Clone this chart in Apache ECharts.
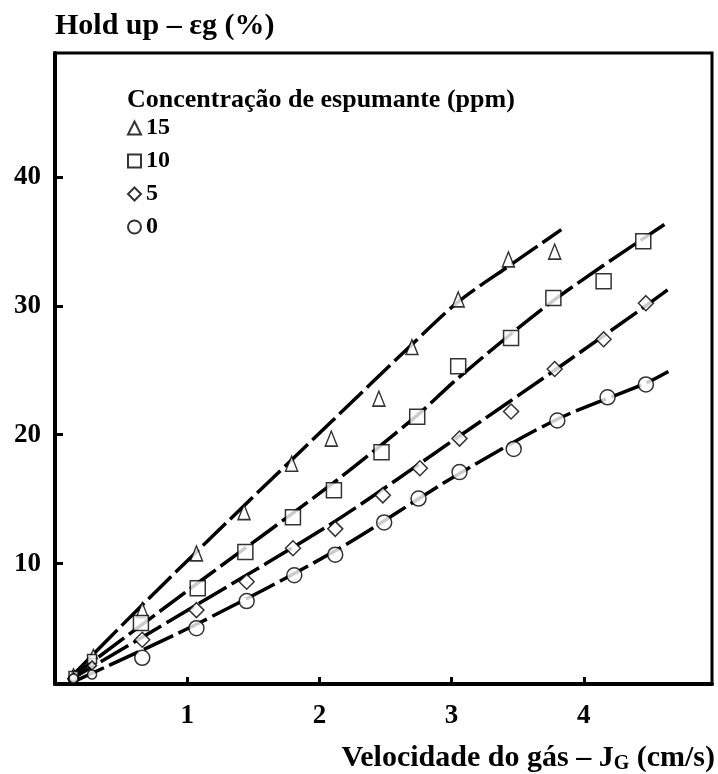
<!DOCTYPE html>
<html>
<head>
<meta charset="utf-8">
<script src="https://cdn.jsdelivr.net/npm/echarts@6/dist/echarts.min.js"></script>
<style>
  html, body { margin: 0; padding: 0; background: #fff; }
  #chart { width: 718px; height: 774px; }
</style>
</head>
<body>
<div id="chart"></div>
<script>
// velocidade do gas (cm/s) e hold up (%) para cada concentracao de espumante
var jg15 = [0.14, 0.29, 0.66, 1.07, 1.43, 1.79, 2.09, 2.45, 2.70, 3.05, 3.43, 3.78];
var eg15 = [1.5, 3.0, 6.4, 10.8, 14.0, 17.75, 19.7, 22.8, 26.8, 30.5, 33.6, 34.2];
var jg10 = [0.14, 0.28, 0.65, 1.08, 1.44, 1.80, 2.11, 2.47, 2.74, 3.05, 3.45, 3.77, 4.15, 4.45];
var eg10 = [1.3, 2.6, 5.4, 8.1, 10.9, 13.6, 15.7, 18.65, 21.4, 25.3, 27.5, 30.6, 31.9, 35.0];
var jg5 = [0.14, 0.28, 0.66, 1.07, 1.45, 1.80, 2.12, 2.48, 2.76, 3.06, 3.45, 3.78, 4.15, 4.47];
var eg5 = [1.2, 2.1, 4.1, 6.4, 8.6, 11.2, 12.7, 15.3, 17.4, 19.7, 21.8, 25.1, 27.4, 30.2];
var jg0 = [0.14, 0.28, 0.66, 1.07, 1.45, 1.81, 2.12, 2.49, 2.75, 3.06, 3.47, 3.80, 4.18, 4.47];
var eg0 = [1.1, 1.4, 2.7, 5.0, 7.1, 9.1, 10.7, 13.2, 15.05, 17.1, 18.9, 21.1, 22.9, 23.9];

// linhas de ajuste (tracejadas)
var fitJg15 = [0.10, 0.66, 1.43, 2.09, 2.70, 3.05, 3.45, 3.83];
var fitEg15 = [1.0, 6.8, 14.5, 21.0, 27.0, 30.3, 33.2, 35.9];
var fitJg10 = [0.10, 1.08, 2.11, 2.74, 3.05, 3.77, 4.61];
var fitEg10 = [1.0, 8.5, 16.3, 21.5, 24.4, 30.4, 36.3];
var fitJg5 = [0.10, 1.07, 2.12, 3.06, 3.78, 4.47, 4.67];
var fitEg5 = [0.9, 6.8, 13.3, 19.9, 25.0, 30.0, 31.5];
var fitJg0 = [0.15, 1.07, 2.12, 3.06, 3.80, 4.47, 4.64];
var fitEg0 = [0.9, 5.3, 11.0, 17.0, 21.2, 24.0, 24.9];

var xTicks = [1, 2, 3, 4];
var yTicks = [10, 20, 30, 40];

function zip(a, b) {
  var out = [];
  for (var i = 0; i < a.length; i++) out.push([a[i], b[i]]);
  return out;
}

var font = 'Liberation Serif';
var marker = {color: '#fff', borderColor: '#000', borderWidth: 1.5};

function pts(name, symbol, big, small, xs, ys) {
  return {
    name: name, type: 'scatter', symbol: symbol, z: 5,
    symbolSize: function (v) { return v[0] < 0.4 ? small : big; },
    itemStyle: marker,
    data: zip(xs, ys)
  };
}
function fit(name, xs, ys) {
  return {
    name: name, type: 'line', showSymbol: false, smooth: 0.3, z: 2,
    lineStyle: {color: '#000', width: 3.5, type: [32, 6], cap: 'butt'},
    data: zip(xs, ys)
  };
}

var chart = echarts.init(document.getElementById('chart'));
chart.setOption({
  animation: false,
  backgroundColor: '#fff',
  title: {
    text: 'Concentração de espumante (ppm)',
    left: 122, top: 82,
    textStyle: {fontFamily: font, fontWeight: 'bold', fontSize: 26, color: '#000'}
  },
  legend: {
    orient: 'vertical', left: 122, top: 111,
    itemWidth: 13, itemHeight: 13, itemGap: 9,
    textStyle: {fontFamily: font, fontWeight: 'bold', fontSize: 24, color: '#000', lineHeight: 22},
    data: [
      {name: '15', icon: 'triangle'},
      {name: '10', icon: 'rect'},
      {name: '5', icon: 'diamond'},
      {name: '0', icon: 'circle'}
    ]
  },
  grid: {
    left: 55, top: 53, right: 6, bottom: 88,
    show: true, borderColor: '#000', borderWidth: 3
  },
  xAxis: {
    type: 'value', min: 0, max: 4.97,
    name: 'Velocidade do gás – J{sub|G} (cm/s)',
    nameLocation: 'end', nameGap: 3,
    nameTextStyle: {
      fontFamily: font, fontWeight: 'bold', fontSize: 30, color: '#000',
      align: 'right', verticalAlign: 'top', padding: [59, 0, 0, 0],
      rich: {sub: {fontFamily: font, fontWeight: 'bold', fontSize: 20, color: '#000', verticalAlign: 'bottom', padding: [11, 0, 0, 0]}}
    },
    splitLine: {show: false},
    axisLine: {lineStyle: {color: '#000', width: 4}},
    axisTick: {inside: true, length: 7, lineStyle: {color: '#000', width: 3}, customValues: xTicks},
    axisLabel: {fontFamily: font, fontWeight: 'bold', fontSize: 27, color: '#000', margin: 19, customValues: xTicks}
  },
  yAxis: {
    type: 'value', min: 0.67, max: 49.6,
    name: 'Hold up – εg (%)',
    nameLocation: 'end', nameGap: 12,
    nameTextStyle: {fontFamily: font, fontWeight: 'bold', fontSize: 30, color: '#000', align: 'left'},
    splitLine: {show: false},
    axisLine: {lineStyle: {color: '#000', width: 4}},
    axisTick: {inside: true, length: 8, lineStyle: {color: '#000', width: 3}, customValues: yTicks},
    axisLabel: {fontFamily: font, fontWeight: 'bold', fontSize: 27, color: '#000', margin: 14, customValues: yTicks}
  },
  series: [
    fit('15 ajuste', fitJg15, fitEg15),
    fit('10 ajuste', fitJg10, fitEg10),
    fit('5 ajuste', fitJg5, fitEg5),
    fit('0 ajuste', fitJg0, fitEg0),
    pts('15', 'triangle', [12, 15], [8, 9], jg15, eg15),
    pts('10', 'rect', 15, 9, jg10, eg10),
    pts('5', 'diamond', 15, 9, jg5, eg5),
    pts('0', 'circle', 15, 9, jg0, eg0)
  ]
});
</script>
</body>
</html>
